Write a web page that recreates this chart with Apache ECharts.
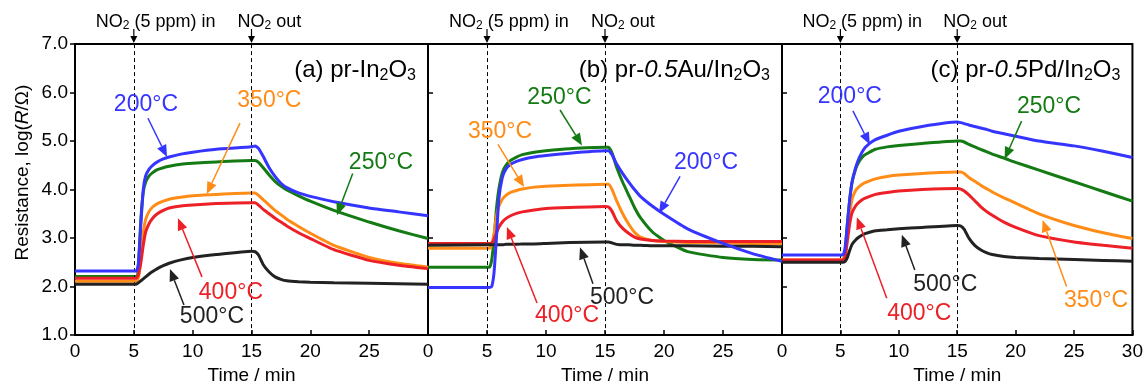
<!DOCTYPE html>
<html><head><meta charset="utf-8">
<script src="https://cdn.jsdelivr.net/npm/echarts@6/dist/echarts.min.js"></script>
<style>html,body{margin:0;padding:0;background:#fff}#c{width:1146px;height:390px}</style>
</head><body><div id="c"></div>
<script>
// ---------- data ----------
const T = [0, 5.2, 5.4, 5.6, 5.8, 6, 6.3, 6.6, 7, 7.5, 8, 9, 10, 12, 15, 15.3, 15.6, 16, 16.5, 17, 17.5, 18, 19, 20, 22, 25, 27.5, 30];
const temps = ['200°C', '250°C', '350°C', '400°C', '500°C'];
const xTicks = [0, 5, 10, 15, 20, 25, 30];
const yTicks = [1.0, 2.0, 3.0, 4.0, 5.0, 6.0, 7.0];

const a200 = [2.32, 2.32, 2.5, 3.3, 4.0, 4.28, 4.42, 4.5, 4.57, 4.63, 4.67, 4.73, 4.77, 4.83, 4.88, 4.90, 4.85, 4.68, 4.45, 4.27, 4.13, 4.04, 3.93, 3.86, 3.75, 3.62, 3.54, 3.46];
const a250 = [2.21, 2.21, 2.5, 3.4, 3.95, 4.15, 4.28, 4.35, 4.41, 4.45, 4.48, 4.52, 4.54, 4.57, 4.60, 4.60, 4.56, 4.45, 4.30, 4.17, 4.07, 3.99, 3.87, 3.76, 3.57, 3.33, 3.15, 2.99];
const a350 = [2.11, 2.11, 2.2, 2.6, 3.1, 3.38, 3.55, 3.64, 3.71, 3.76, 3.80, 3.84, 3.87, 3.90, 3.93, 3.93, 3.88, 3.79, 3.68, 3.57, 3.48, 3.39, 3.24, 3.10, 2.85, 2.60, 2.48, 2.40];
const a400 = [2.17, 2.17, 2.25, 2.5, 2.85, 3.12, 3.30, 3.41, 3.50, 3.57, 3.62, 3.66, 3.68, 3.71, 3.73, 3.73, 3.68, 3.59, 3.50, 3.41, 3.33, 3.25, 3.11, 2.99, 2.76, 2.54, 2.44, 2.37];
const a500 = [2.05, 2.05, 2.08, 2.12, 2.16, 2.20, 2.26, 2.31, 2.37, 2.43, 2.48, 2.55, 2.60, 2.66, 2.73, 2.72, 2.65, 2.45, 2.30, 2.20, 2.15, 2.12, 2.10, 2.09, 2.08, 2.07, 2.06, 2.05];

const b200 = [1.98, 1.98, 2.0, 2.3, 3.0, 3.8, 4.25, 4.42, 4.52, 4.58, 4.62, 4.67, 4.70, 4.75, 4.80, 4.80, 4.72, 4.52, 4.33, 4.16, 4.00, 3.86, 3.66, 3.49, 3.19, 2.89, 2.68, 2.52];
const b250 = [2.40, 2.40, 2.55, 3.0, 3.6, 4.0, 4.35, 4.5, 4.6, 4.67, 4.72, 4.77, 4.80, 4.84, 4.87, 4.87, 4.75, 4.45, 4.15, 3.89, 3.63, 3.42, 3.13, 2.95, 2.72, 2.60, 2.56, 2.55];
const b350 = [2.79, 2.79, 2.85, 3.1, 3.45, 3.65, 3.8, 3.88, 3.94, 3.98, 4.01, 4.05, 4.07, 4.09, 4.11, 4.11, 4.0, 3.76, 3.50, 3.29, 3.12, 3.02, 2.95, 2.93, 2.91, 2.90, 2.89, 2.89];
const b400 = [2.89, 2.89, 2.9, 2.98, 3.1, 3.22, 3.33, 3.40, 3.46, 3.51, 3.54, 3.58, 3.61, 3.63, 3.65, 3.64, 3.55, 3.35, 3.20, 3.10, 3.02, 2.98, 2.95, 2.94, 2.93, 2.93, 2.93, 2.93];
const b500 = [2.85, 2.86, 2.86, 2.86, 2.86, 2.86, 2.86, 2.87, 2.87, 2.87, 2.88, 2.88, 2.89, 2.91, 2.92, 2.92, 2.90, 2.87, 2.86, 2.86, 2.85, 2.85, 2.84, 2.84, 2.84, 2.83, 2.83, 2.82];

const c200 = [2.65, 2.65, 2.8, 3.3, 3.8, 4.16, 4.45, 4.65, 4.83, 4.95, 5.03, 5.12, 5.20, 5.30, 5.39, 5.38, 5.36, 5.33, 5.30, 5.27, 5.24, 5.20, 5.15, 5.10, 5.00, 4.90, 4.79, 4.66];
const c250 = [2.52, 2.52, 2.7, 3.3, 3.8, 4.15, 4.42, 4.58, 4.70, 4.77, 4.83, 4.88, 4.91, 4.95, 5.00, 5.00, 4.98, 4.93, 4.88, 4.83, 4.78, 4.73, 4.65, 4.56, 4.40, 4.16, 3.96, 3.76];
const c350 = [2.55, 2.55, 2.65, 3.1, 3.5, 3.8, 3.98, 4.06, 4.13, 4.18, 4.22, 4.27, 4.30, 4.33, 4.36, 4.36, 4.33, 4.25, 4.17, 4.09, 4.02, 3.95, 3.83, 3.72, 3.50, 3.26, 3.11, 2.99];
const c400 = [2.55, 2.55, 2.6, 2.95, 3.3, 3.52, 3.66, 3.74, 3.81, 3.86, 3.90, 3.94, 3.97, 4.00, 4.02, 4.01, 3.97, 3.89, 3.77, 3.65, 3.55, 3.47, 3.33, 3.22, 3.05, 2.92, 2.85, 2.79];
const c500 = [2.50, 2.50, 2.52, 2.6, 2.75, 2.87, 2.96, 3.02, 3.08, 3.12, 3.15, 3.17, 3.19, 3.22, 3.26, 3.25, 3.18, 3.00, 2.85, 2.76, 2.70, 2.66, 2.62, 2.60, 2.58, 2.56, 2.54, 2.52];

const gasIn = 5, gasOut = 15;

// annotation placement (data coordinates): label centre, arrow start, arrow tip
const annA = [
  ['200°C', 6.03, 5.74, 6.2, 5.47, 7.82, 4.67],
  ['350°C', 16.52, 5.83, 14.02, 5.37, 11.2, 3.91],
  ['250°C', 26.0, 4.55, 23.6, 4.33, 22.26, 3.47],
  ['400°C', 13.25, 1.88, 10.79, 2.20, 8.75, 3.41],
  ['500°C', 11.64, 1.37, 9.26, 1.62, 8.07, 2.36]
];
const annB = [
  ['250°C', 11.14, 5.90, 11.19, 5.64, 13.05, 4.91],
  ['350°C', 6.1, 5.19, 5.93, 4.93, 8.14, 4.05],
  ['200°C', 23.56, 4.55, 21.36, 4.27, 19.58, 3.51],
  ['400°C', 11.78, 1.40, 9.24, 1.66, 6.69, 3.23],
  ['500°C', 16.44, 1.78, 13.98, 2.06, 12.88, 2.81]
];
const annC = [
  ['200°C', 5.81, 5.91, 6.07, 5.62, 7.52, 4.93],
  ['250°C', 22.86, 5.70, 20.51, 5.41, 19.06, 4.63],
  ['350°C', 26.88, 1.72, 24.36, 2.0, 22.31, 3.37],
  ['400°C', 11.75, 1.44, 8.97, 1.76, 6.41, 3.43],
  ['500°C', 13.98, 2.04, 11.37, 2.34, 10.26, 3.07]
];

// ---------- styling ----------
const FONT = '"Liberation Sans", Arial, Helvetica, sans-serif';
const COLORS = {'200°C': '#3535ff', '250°C': '#147a14', '350°C': '#ff8c16', '400°C': '#ec2026', '500°C': '#222222'};
const panels = [
  {left: 75, width: 353, sets: {'200°C': a200, '250°C': a250, '350°C': a350, '400°C': a400, '500°C': a500},
   title: '{r|(a) pr-In}{s|2}{r|O}{s|3}', ann: annA},
  {left: 428, width: 354, sets: {'200°C': b200, '250°C': b250, '350°C': b350, '400°C': b400, '500°C': b500},
   title: '{r|(b) pr-}{i|0.5}{r|Au/In}{s|2}{r|O}{s|3}', ann: annB},
  {left: 782, width: 351, sets: {'200°C': c200, '250°C': c250, '350°C': c350, '400°C': c400, '500°C': c500},
   title: '{r|(c) pr-}{i|0.5}{r|Pd/In}{s|2}{r|O}{s|3}', ann: annC}
];
const drawOrder = ['250°C', '350°C', '400°C', '500°C', '200°C'];

const grids = [], xAxes = [], yAxes = [], series = [];
panels.forEach((p, i) => {
  grids.push({left: p.left, top: 44, width: p.width, height: 299, show: true,
              borderColor: '#000', borderWidth: 2, backgroundColor: 'transparent'});
  xAxes.push({
    gridIndex: i, type: 'value', min: xTicks[0], max: xTicks[xTicks.length - 1], interval: 5,
    axisLine: {show: true, onZero: false, lineStyle: {color: '#000', width: 2}},
    axisTick: {show: true, inside: true, length: 5, lineStyle: {color: '#000', width: 1.5}},
    axisLabel: {color: '#000', fontSize: 19, fontFamily: FONT, margin: 7,
                formatter: v => (i < 2 && v === 30) ? '' : String(v)},
    splitLine: {show: false},
    name: 'Time / min', nameLocation: 'middle', nameGap: 26,
    nameTextStyle: {color: '#000', fontSize: 19, fontFamily: FONT}
  });
  yAxes.push({
    gridIndex: i, type: 'value', min: yTicks[0], max: yTicks[yTicks.length - 1], interval: 1,
    axisLine: {show: true, onZero: false, lineStyle: {color: '#000', width: 2}},
    axisTick: {show: true, inside: i > 0, length: 5, lineStyle: {color: '#000', width: 1.5}},
    axisLabel: {show: i === 0, color: '#000', fontSize: 19, fontFamily: FONT, margin: 7,
                formatter: v => v.toFixed(1)},
    splitLine: {show: false},
    name: i === 0 ? '{m|Resistance, log(}{it|R}{m|/Ω)}' : '',
    nameLocation: 'middle', nameGap: 43,
    nameTextStyle: {color: '#000', fontFamily: FONT, fontSize: 19, padding: [0, 0, 0, 34],
      rich: {m: {fontSize: 19, fontFamily: FONT, color: '#000'},
             it: {fontSize: 19, fontFamily: FONT, fontStyle: 'italic', color: '#000'}}}
  });
  drawOrder.forEach((t, k) => {
    const s = {
      type: 'line', name: t, xAxisIndex: i, yAxisIndex: i,
      data: T.map((x, j) => [x, p.sets[t][j]]),
      showSymbol: false, symbol: 'none', smooth: 0.15,
      lineStyle: {color: COLORS[t], width: 3}, itemStyle: {color: COLORS[t]},
      z: 3 + k, silent: true, animation: false
    };
    if (k === 0) {
      s.markLine = {symbol: 'none', silent: true, animation: false,
        label: {show: false},
        lineStyle: {type: [4, 3], color: '#000', width: 1},
        data: [{xAxis: gasIn}, {xAxis: gasOut}]};
    }
    series.push(s);
  });
});

const chart = echarts.init(document.getElementById('c'));
chart.setOption({animation: false, grid: grids, xAxis: xAxes, yAxis: yAxes, series: series});

// ---------- annotations (positioned through the chart's own scales) ----------
function px(i, x, y) { return chart.convertToPixel({gridIndex: i}, [x, y]); }
function arrow(p0, p1, color, lw, hl, hw) {
  const dx = p1[0] - p0[0], dy = p1[1] - p0[1], L = Math.hypot(dx, dy);
  const ux = dx / L, uy = dy / L, bx = p1[0] - ux * hl, by = p1[1] - uy * hl, nx = -uy, ny = ux;
  return [
    {type: 'line', z: 100, shape: {x1: p0[0], y1: p0[1], x2: bx, y2: by},
     style: {stroke: color, lineWidth: lw}},
    {type: 'polygon', z: 100, shape: {points: [[p1[0], p1[1]], [bx + nx * hw, by + ny * hw], [bx - nx * hw, by - ny * hw]]},
     style: {fill: color}}
  ];
}
const graphics = [];
panels.forEach((p, i) => {
  const tr = px(i, 30, 7);
  graphics.push({type: 'text', z: 100, x: tr[0] - 12, y: tr[1] + 26,
    style: {text: p.title, align: 'right', verticalAlign: 'middle', fill: '#000',
      rich: {r: {fontSize: 24, lineHeight: 28, fontFamily: FONT, fill: '#000'},
             i: {fontSize: 24, lineHeight: 28, fontFamily: FONT, fontStyle: 'italic', fill: '#000'},
             s: {fontSize: 16, lineHeight: 16, fontFamily: FONT, fill: '#000', verticalAlign: 'bottom'}}}});
  [[gasIn, '{m|NO}{s|2}{m| (5 ppm) in}', 38], [gasOut, '{m|NO}{s|2}{m| out}', 14]].forEach(([tx, txt, off]) => {
    const q = px(i, tx, 7);
    graphics.push(...arrow([q[0], q[1] - 15], [q[0], q[1] - 1], '#000', 1.2, 7, 3.5));
    graphics.push({type: 'text', z: 100, x: q[0] - off, y: q[1] - 22,
      style: {text: txt, align: 'left', verticalAlign: 'middle', fill: '#000',
        rich: {m: {fontSize: 18, lineHeight: 20, fontFamily: FONT, fill: '#000'},
               s: {fontSize: 12, lineHeight: 12, fontFamily: FONT, fill: '#000', verticalAlign: 'bottom'}}}});
  });
  p.ann.forEach(a => {
    const col = COLORS[a[0]];
    const c = px(i, a[1], a[2]);
    graphics.push({type: 'text', z: 100, x: c[0], y: c[1],
      style: {text: a[0], align: 'center', verticalAlign: 'middle', fill: col, fontSize: 23, fontFamily: FONT}});
    graphics.push(...arrow(px(i, a[3], a[4]), px(i, a[5], a[6]), col, 1.5, 12, 5));
  });
});
chart.setOption({graphic: graphics});
</script>
</body></html>
